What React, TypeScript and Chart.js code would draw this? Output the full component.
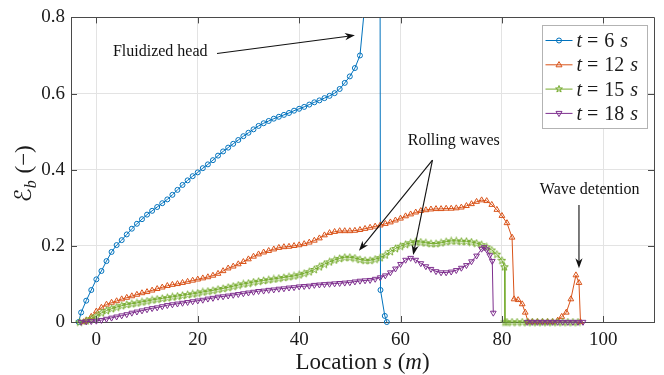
import React, { useEffect, useRef } from 'react';
import { Chart, registerables } from 'chart.js';

Chart.register(...registerables);

// Bed erosion ratio E_b along the slope at four instants
const blueS = [
  -3.5, -3, -2, -1,
  0, 1, 2, 3, 4, 5, 6, 7, 8, 9,
  10, 11, 12, 13, 14, 15, 16, 17, 18, 19,
  20, 21, 22, 23, 24, 25, 26, 27, 28, 29,
  30, 31, 32, 33, 34, 35, 36, 37, 38, 39,
  40, 41, 42, 43, 44, 45, 46, 47, 48, 49,
  50, 51, 52, 53, 54, 55,
  55.9, 56.05, 56.9, 57.3,
];
const blueE = [
  0, 0.025, 0.056, 0.084,
  0.112, 0.134, 0.16, 0.184, 0.202, 0.215, 0.23, 0.245, 0.258, 0.27,
  0.282, 0.292, 0.302, 0.312, 0.322, 0.334, 0.347, 0.36, 0.372, 0.383,
  0.393, 0.404, 0.414, 0.425, 0.437, 0.448, 0.458, 0.468, 0.478, 0.488,
  0.497, 0.506, 0.515, 0.522, 0.528, 0.534, 0.539, 0.544, 0.549, 0.555,
  0.56, 0.565, 0.571, 0.577, 0.582, 0.588, 0.594, 0.601, 0.612, 0.628,
  0.645, 0.667, 0.7, 0.84, 1.05, 1.3,
  1.5, 0.084, 0.016, 0,
];

const orangeS = [
  -2.5, -2, -1,
  0, 1, 2, 3, 4, 5, 6, 7, 8, 9,
  10, 11, 12, 13, 14, 15, 16, 17, 18, 19,
  20, 21, 22, 23, 24, 25, 26, 27, 28, 29,
  30, 31, 32, 33, 34, 35, 36, 37, 38, 39,
  40, 41, 42, 43, 44, 45, 46, 47, 48, 49,
  50, 51, 52, 53, 54, 55, 56, 57, 58, 59,
  60, 61, 62, 63, 64, 65, 66, 67, 68, 69,
  70, 71, 72, 73, 74, 75, 76, 77, 78, 79,
  80, 81, 82,
  82.4, 83.2, 84, 84.6, 85.2, 86, 87, 88, 89, 90, 91, 91.8, 92.7, 93.6, 94.6, 95.2, 95.5,
];
const orangeE = [
  0, 0.004, 0.014,
  0.028, 0.038, 0.046, 0.051, 0.055, 0.06, 0.064, 0.068, 0.072, 0.076,
  0.079, 0.083, 0.087, 0.091, 0.095, 0.098, 0.1, 0.103, 0.106, 0.109,
  0.112, 0.115, 0.118, 0.122, 0.127, 0.134, 0.141, 0.146, 0.152, 0.158,
  0.165, 0.172, 0.178, 0.183, 0.187, 0.191, 0.195, 0.197, 0.198, 0.2,
  0.202, 0.205, 0.209, 0.214, 0.22, 0.228, 0.234, 0.237, 0.239, 0.239,
  0.239, 0.24, 0.242, 0.245, 0.248, 0.251, 0.254, 0.258, 0.262, 0.267,
  0.272, 0.278, 0.283, 0.288, 0.292, 0.294, 0.296, 0.297, 0.297, 0.298,
  0.298, 0.299, 0.301, 0.305, 0.31, 0.316, 0.32, 0.318, 0.308, 0.295,
  0.279, 0.26, 0.222,
  0.06, 0.058, 0.047, 0.025, 0, 0, 0, 0, 0, 0, 0.004, 0.014, 0.025, 0.06, 0.123, 0.103, 0,
];

const greenS = [
  -3.3, -2, -1,
  0, 1, 2, 3, 4, 5, 6, 7, 8, 9,
  10, 11, 12, 13, 14, 15, 16, 17, 18, 19,
  20, 21, 22, 23, 24, 25, 26, 27, 28, 29,
  30, 31, 32, 33, 34, 35, 36, 37, 38, 39,
  40, 41, 42, 43, 44, 45, 46, 47, 48, 49,
  50, 51, 52, 53, 54, 55, 56, 57, 58, 59,
  60, 61, 62, 63, 64, 65, 66, 67, 68, 69,
  70, 71, 72, 73, 74, 75, 76, 77, 78, 79,
  80, 80.5, 80.6,
  81, 82, 83, 84, 85, 86, 87, 88, 89, 90, 91, 92, 93, 94, 95,
];
const greenE = [
  0, 0.003, 0.009,
  0.016, 0.024, 0.03, 0.035, 0.039, 0.043, 0.046, 0.048, 0.05, 0.053,
  0.055, 0.058, 0.06, 0.062, 0.064, 0.066, 0.068, 0.07, 0.072, 0.074,
  0.076, 0.079, 0.081, 0.083, 0.086, 0.088, 0.091, 0.094, 0.097, 0.1,
  0.102, 0.105, 0.107, 0.109, 0.111, 0.113, 0.115, 0.117, 0.119, 0.121,
  0.124, 0.128, 0.132, 0.138, 0.145, 0.152, 0.158, 0.163, 0.167, 0.17,
  0.17, 0.168, 0.164, 0.162, 0.162, 0.165, 0.169, 0.176, 0.185, 0.193,
  0.199, 0.204, 0.208, 0.211, 0.21, 0.208, 0.206, 0.206, 0.208, 0.211,
  0.213, 0.213, 0.212, 0.212, 0.21, 0.207, 0.203, 0.197, 0.189, 0.178,
  0.162, 0.145, 0,
  0, 0, 0, 0, 0, 0, 0, 0, 0, 0, 0, 0, 0, 0, 0,
];

const purpleS = [
  -3, -2, -1,
  0, 1, 2, 3, 4, 5, 6, 7, 8, 9,
  10, 11, 12, 13, 14, 15, 16, 17, 18, 19,
  20, 21, 22, 23, 24, 25, 26, 27, 28, 29,
  30, 31, 32, 33, 34, 35, 36, 37, 38, 39,
  40, 41, 42, 43, 44, 45, 46, 47, 48, 49,
  50, 51, 52, 53, 54, 55, 56, 57, 58, 59,
  60, 61, 62, 63, 64, 65, 66, 67, 68, 69,
  70, 71, 72, 73, 74, 75, 76,
  76.5, 77, 77.6, 78.1, 78.3,
  80,
  85, 86, 87, 88, 89, 90, 91, 92, 93, 94, 95, 96,
];
const purpleE: (number | null)[] = [
  0, 0.001, 0.002,
  0.003, 0.005, 0.008, 0.011, 0.014, 0.017, 0.02, 0.024, 0.027, 0.03,
  0.033, 0.036, 0.038, 0.041, 0.044, 0.046, 0.048, 0.05, 0.052, 0.054,
  0.056, 0.058, 0.061, 0.063, 0.066, 0.067, 0.069, 0.071, 0.073, 0.075,
  0.077, 0.079, 0.081, 0.082, 0.084, 0.085, 0.087, 0.088, 0.09, 0.091,
  0.093, 0.094, 0.095, 0.097, 0.098, 0.099, 0.1, 0.101, 0.102, 0.103,
  0.104, 0.106, 0.108, 0.109, 0.11, 0.113, 0.117, 0.122, 0.13, 0.14,
  0.152, 0.163, 0.168, 0.163, 0.154, 0.146, 0.139, 0.133, 0.13, 0.13,
  0.132, 0.136, 0.142, 0.149, 0.159, 0.174, 0.192,
  0.196, 0.19, 0.175, 0.16, 0.024,
  null,
  0, 0, 0, 0, 0, 0, 0, 0, 0, 0, 0, 0,
];

const seriesTimes = ['6', '12', '15', '18'];
const xTicks = [0, 20, 40, 60, 80, 100];
const yTicks = [0, 0.2, 0.4, 0.6, 0.8];
const xRange = [-5, 110];
const yRange = [0, 0.8];

// Annotation anchors in data units (s, E_b)
const fluidLabel = { s: 12.6, e: 0.709, text: 'Fluidized head' };
const fluidArrow = [[23.8, 0.705], [51.0, 0.753]];
const rollLabel = { s: 70.5, e: 0.477, text: 'Rolling waves' };
const rollArrowFrom = [66.3, 0.425];
const rollArrowTo = [[51.8, 0.187], [62.5, 0.176]];
const waveLabel = { s: 97.3, e: 0.348, text: 'Wave detention' };
const waveArrow = [[95.2, 0.307], [95.2, 0.141]];

const COLORS = ['#0072BD', '#D95319', '#77AC30', '#7E2F8E'];
const MARKERS = ['circle', 'up', 'star', 'down'];
const SERIF = "'Liberation Serif', 'Times New Roman', serif";
const AXIS = '#4a4a4a';
const GRID = '#e3e3e3';

function pentagramPath(ctx: CanvasRenderingContext2D, cx: number, cy: number, R: number) {
  const r = R * 0.4;
  ctx.beginPath();
  for (let i = 0; i < 10; i++) {
    const a = -Math.PI / 2 + (i * Math.PI) / 5;
    const rr = i % 2 === 0 ? R : r;
    const px = cx + rr * Math.cos(a);
    const py = cy + rr * Math.sin(a);
    if (i === 0) ctx.moveTo(px, py);
    else ctx.lineTo(px, py);
  }
  ctx.closePath();
}

function makeStar(color: string) {
  const c = document.createElement('canvas');
  c.width = 9;
  c.height = 9;
  const g = c.getContext('2d')!;
  g.strokeStyle = color;
  g.lineWidth = 1;
  pentagramPath(g, 4.5, 4.8, 4);
  g.stroke();
  return c;
}

function drawMarker(ctx: CanvasRenderingContext2D, kind: string, x: number, y: number, color: string) {
  ctx.save();
  ctx.strokeStyle = color;
  ctx.lineWidth = 1;
  ctx.beginPath();
  if (kind === 'circle') {
    ctx.arc(x, y, 2.5, 0, Math.PI * 2);
  } else if (kind === 'up') {
    ctx.moveTo(x, y - 3.2);
    ctx.lineTo(x + 3, y + 2);
    ctx.lineTo(x - 3, y + 2);
    ctx.closePath();
  } else if (kind === 'down') {
    ctx.moveTo(x, y + 3.2);
    ctx.lineTo(x + 3, y - 2);
    ctx.lineTo(x - 3, y - 2);
    ctx.closePath();
  } else {
    pentagramPath(ctx, x, y, 3.6);
  }
  ctx.stroke();
  ctx.restore();
}

function arrow(ctx: CanvasRenderingContext2D, x0: number, y0: number, x1: number, y1: number) {
  const ang = Math.atan2(y1 - y0, x1 - x0);
  const L = 10;
  const W = 3.6;
  const N = 3;
  ctx.beginPath();
  ctx.moveTo(x0, y0);
  ctx.lineTo(x1 - Math.cos(ang) * (L - N), y1 - Math.sin(ang) * (L - N));
  ctx.stroke();
  ctx.save();
  ctx.translate(x1, y1);
  ctx.rotate(ang);
  ctx.beginPath();
  ctx.moveTo(0, 0);
  ctx.lineTo(-L, -W);
  ctx.lineTo(-L + N, 0);
  ctx.lineTo(-L, W);
  ctx.closePath();
  ctx.fill();
  ctx.restore();
}

// Draw a run of differently styled pieces starting at x, returns end x
function runText(ctx: CanvasRenderingContext2D, pieces: { t: string; f: string; dy?: number; gap?: number }[], x: number, y: number) {
  let cx = x;
  for (const p of pieces) {
    ctx.font = p.f;
    cx += p.gap || 0;
    ctx.fillText(p.t, cx, y + (p.dy || 0));
    cx += ctx.measureText(p.t).width;
  }
  return cx;
}
function runWidth(ctx: CanvasRenderingContext2D, pieces: { t: string; f: string; gap?: number }[]) {
  let w = 0;
  for (const p of pieces) {
    ctx.font = p.f;
    w += (p.gap || 0) + ctx.measureText(p.t).width;
  }
  return w;
}

const decorPlugin = {
  id: 'decor',
  afterDraw(chart: any) {
    const { ctx, chartArea: ca } = chart;
    const x = chart.scales.x;
    const y = chart.scales.y;
    ctx.save();

    // box on top and right, inward tick marks on all four sides
    ctx.strokeStyle = AXIS;
    ctx.lineWidth = 1;
    ctx.beginPath();
    ctx.moveTo(ca.left, Math.round(ca.top) + 0.5);
    ctx.lineTo(Math.round(ca.right) + 0.5, Math.round(ca.top) + 0.5);
    ctx.lineTo(Math.round(ca.right) + 0.5, ca.bottom);
    ctx.stroke();
    const TL = 6;
    ctx.beginPath();
    for (const v of xTicks) {
      const px = Math.round(x.getPixelForValue(v)) + 0.5;
      ctx.moveTo(px, ca.bottom);
      ctx.lineTo(px, ca.bottom - TL);
      ctx.moveTo(px, ca.top);
      ctx.lineTo(px, ca.top + TL);
    }
    for (const v of yTicks) {
      const py = Math.round(y.getPixelForValue(v)) + 0.5;
      ctx.moveTo(ca.left, py);
      ctx.lineTo(ca.left + TL, py);
      ctx.moveTo(ca.right, py);
      ctx.lineTo(ca.right - TL, py);
    }
    ctx.stroke();

    // axis titles
    ctx.fillStyle = '#1a1a1a';
    ctx.textBaseline = 'alphabetic';
    ctx.textAlign = 'left';
    const up = `23px ${SERIF}`;
    const it = `italic 23px ${SERIF}`;
    const xTitle = [
      { t: 'Location ', f: up },
      { t: 's', f: it },
      { t: ' (', f: up },
      { t: 'm', f: it },
      { t: ')', f: up },
    ];
    const xw = runWidth(ctx, xTitle);
    runText(ctx, xTitle, (ca.left + ca.right) / 2 - xw / 2, ca.bottom + 47);

    const yTitle = [
      { t: 'ℰ', f: `23px 'DejaVu Serif', 'DejaVu Sans', serif` },
      { t: 'b', f: `italic 16px ${SERIF}`, dy: 5 },
      { t: ' (−)', f: up, gap: 1 },
    ];
    const yw = runWidth(ctx, yTitle);
    ctx.save();
    ctx.translate(31, (ca.top + ca.bottom) / 2 + 4);
    ctx.rotate(-Math.PI / 2);
    runText(ctx, yTitle, -yw / 2, 0);
    ctx.restore();

    // annotations
    ctx.font = `16px ${SERIF}`;
    ctx.textAlign = 'center';
    ctx.textBaseline = 'middle';
    ctx.fillStyle = '#111';
    ctx.strokeStyle = '#111';
    ctx.lineWidth = 1.1;
    const P = (s: number, e: number) => [x.getPixelForValue(s), y.getPixelForValue(e)];
    for (const lab of [fluidLabel, rollLabel, waveLabel]) {
      const [px, py] = P(lab.s, lab.e);
      ctx.fillText(lab.text, px, py);
    }
    {
      const [a, b] = P(fluidArrow[0][0], fluidArrow[0][1]);
      const [c, d] = P(fluidArrow[1][0], fluidArrow[1][1]);
      arrow(ctx, a, b, c, d);
    }
    for (const to of rollArrowTo) {
      const [a, b] = P(rollArrowFrom[0], rollArrowFrom[1]);
      const [c, d] = P(to[0], to[1]);
      arrow(ctx, a, b, c, d);
    }
    {
      const [a, b] = P(waveArrow[0][0], waveArrow[0][1]);
      const [c, d] = P(waveArrow[1][0], waveArrow[1][1]);
      arrow(ctx, a, b, c, d);
    }

    // legend box
    const lw = 105;
    const lh = 103;
    const lx = Math.round(ca.right - 7 - lw) + 0.5;
    const ly = Math.round(ca.top + 8) + 0.5;
    ctx.fillStyle = '#fff';
    ctx.fillRect(lx, ly, lw, lh);
    ctx.strokeStyle = '#b3b3b3';
    ctx.lineWidth = 1;
    ctx.strokeRect(lx, ly, lw, lh);
    ctx.textAlign = 'left';
    ctx.textBaseline = 'alphabetic';
    seriesTimes.forEach((tv, i) => {
      const ry = ly + 15 + i * 24.3;
      ctx.strokeStyle = COLORS[i];
      ctx.lineWidth = 1;
      ctx.beginPath();
      ctx.moveTo(lx + 3, ry);
      ctx.lineTo(lx + 30, ry);
      ctx.stroke();
      drawMarker(ctx, MARKERS[i], lx + 16.5, ry, COLORS[i]);
      ctx.fillStyle = '#1a1a1a';
      runText(
        ctx,
        [
          { t: 't', f: `italic 20px ${SERIF}` },
          { t: '=', f: `20px ${SERIF}`, gap: 5 },
          { t: tv, f: `20px ${SERIF}`, gap: 6 },
          { t: 's', f: `italic 20px ${SERIF}`, gap: 6 },
        ],
        lx + 34,
        ry + 6.5
      );
    });

    ctx.restore();
  },
};

const toPoints = (s: number[], e: (number | null)[]) => s.map((v, i) => ({ x: v, y: e[i] }));

export default function App() {
  const ref = useRef<HTMLCanvasElement>(null);

  useEffect(() => {
    const canvas = ref.current;
    if (!canvas) return;
    const star = makeStar(COLORS[2]);
    const series = [
      { s: blueS, e: blueE, style: 'circle' as any, radius: 2.5, rot: 0 },
      { s: orangeS, e: orangeE, style: 'triangle' as any, radius: 3.3, rot: 0 },
      { s: greenS, e: greenE, style: star as any, radius: 4, rot: 0 },
      { s: purpleS, e: purpleE, style: 'triangle' as any, radius: 3.3, rot: 180 },
    ];
    const datasets = series.map((d, i) => ({
      label: `t = ${seriesTimes[i]} s`,
      data: toPoints(d.s, d.e),
      borderColor: COLORS[i],
      backgroundColor: COLORS[i],
      borderWidth: 1,
      pointStyle: d.style,
      pointRadius: d.radius,
      pointRotation: d.rot,
      pointBorderColor: COLORS[i],
      pointBackgroundColor: 'rgba(0,0,0,0)',
      pointBorderWidth: 1,
      tension: 0,
      spanGaps: false,
      order: 4 - i,
      clip: { left: 8, right: 8, top: 0, bottom: 8 },
    }));

    const tickFont = { family: SERIF, size: 19 };
    const chart = new Chart(canvas, {
      type: 'line',
      data: { datasets: datasets as any },
      options: {
        animation: false,
        responsive: false,
        maintainAspectRatio: false,
        devicePixelRatio: 1,
        layout: { padding: { top: 17, right: 10, left: 0, bottom: 0 } },
        plugins: { legend: { display: false }, tooltip: { enabled: false } },
        events: [],
        scales: {
          x: {
            type: 'linear',
            min: xRange[0],
            max: xRange[1],
            afterBuildTicks: (s: any) => {
              s.ticks = xTicks.map((v) => ({ value: v }));
            },
            afterFit: (s: any) => {
              s.height = 53;
            },
            grid: { color: GRID, drawTicks: false, lineWidth: 1 },
            border: { color: AXIS, width: 1 },
            ticks: {
              font: tickFont,
              color: '#1a1a1a',
              padding: 7,
              maxRotation: 0,
              autoSkip: false,
              callback: (v: any) => String(v),
            },
          },
          y: {
            type: 'linear',
            min: yRange[0],
            max: yRange[1],
            afterBuildTicks: (s: any) => {
              s.ticks = yTicks.map((v) => ({ value: v }));
            },
            afterFit: (s: any) => {
              s.width = 71;
            },
            grid: { color: GRID, drawTicks: false, lineWidth: 1 },
            border: { color: AXIS, width: 1 },
            ticks: {
              font: tickFont,
              color: '#1a1a1a',
              padding: 6,
              autoSkip: false,
              callback: (v: any) => String(Math.round(Number(v) * 10) / 10),
            },
          },
        },
      },
      plugins: [decorPlugin as any],
    });
    return () => chart.destroy();
  }, []);

  return (
    <div style={{ position: 'fixed', left: 0, top: 0, width: 664, height: 375, background: '#fff' }}>
      <canvas ref={ref} width={664} height={375} style={{ display: 'block', width: 664, height: 375 }} />
    </div>
  );
}
